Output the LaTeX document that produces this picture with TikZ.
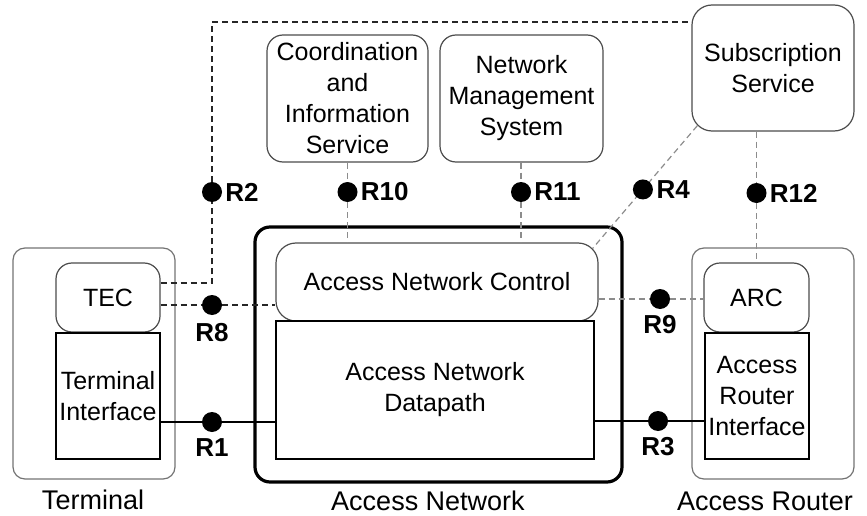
\documentclass[tikz,border=0pt]{standalone}
\usepackage{fontspec}
\setmainfont{Liberation Sans}
\begin{document}
\begin{tikzpicture}[x=1pt,y=-1pt,
  txt/.style={font=\fontsize{25}{31}\selectfont, align=center},
  captxt/.style={font=\fontsize{27}{32}\selectfont, inner sep=0pt},
  outerbox/.style={draw=black!55, line width=1.2pt, rounded corners=12pt, inner sep=0pt},
  anbox/.style={draw=black, line width=3.2pt, rounded corners=15pt, inner sep=0pt},
  rbox/.style={txt, draw=black!70, line width=1.2pt, rounded corners=16pt, inner sep=0pt},
  sbox/.style={txt, draw=black, line width=1.1pt, inner sep=0pt},
  dot/.style={circle, fill=black, minimum size=20pt, inner sep=0pt},
  rlab/.style={font=\bfseries\fontsize{26}{30}\selectfont, inner sep=0pt},
  ddash/.style={draw=black!85, line width=1.2pt, dash pattern=on 6pt off 4pt},
  ldash/.style={draw=black!45, line width=1.2pt, dash pattern=on 6pt off 4pt},
  conn/.style={draw=black, line width=1.2pt}
]
\useasboundingbox (0,0) rectangle (867,516);

% outer containers
\node[outerbox, minimum width=162pt, minimum height=231pt] (term) at (94,363.5) {};
\node[anbox, minimum width=367pt, minimum height=255pt] (an) at (438.5,354.5) {};
\node[outerbox, minimum width=162pt, minimum height=231pt] (ar) at (773,363.5) {};

% inner boxes
\node[rbox, minimum width=104pt, minimum height=69pt] (tec) at (108,297.5) {TEC};
\node[sbox, minimum width=104pt, minimum height=126pt] (ti) at (108,396) {Terminal\\Interface};
\node[rbox, rounded corners=20pt, minimum width=322pt, minimum height=78pt] (anc) at (437,282) {Access Network Control};
\node[sbox, minimum width=318pt, minimum height=138pt] (and) at (435,390) {Access Network\\Datapath};
\node[rbox, minimum width=105pt, minimum height=69pt] (arc) at (756.5,297.5) {ARC};
\node[sbox, minimum width=104pt, minimum height=126pt] (ari) at (757,396) {Access\\Router\\Interface};

% top services
\node[rbox, minimum width=161pt, minimum height=127pt] (cis) at (347.5,98.5) {Coordination\\and\\Information\\Service};
\node[rbox, minimum width=163pt, minimum height=127pt] (nms) at (521.5,98.5) {Network\\Management\\System};
\node[rbox, rounded corners=20pt, minimum width=162pt, minimum height=126pt] (sub) at (773,68) {Subscription\\Service};

% captions
\node[captxt] (termcap) at (93,500) {Terminal};
\node[captxt] (ancap) at (428,501) {Access Network};
\node[captxt] (arcap) at (765,501) {Access Router};

% reference points
\node[dot] (r2) at (212,192) {};
\node[dot] (r10) at (347.5,192) {};
\node[dot] (r11) at (521,192) {};
\node[dot] (r12) at (756.5,193) {};
\node[dot] (r8) at (212,305) {};
\node[dot] (r1) at (212,422) {};
\node[dot] (r9) at (660,299) {};
\node[dot] (r3) at (658,421) {};
\coordinate (r2a) at (212,283);
\coordinate (r2top) at (212,22);

% connectors
\draw[ddash] (tec.east |- r2a) -- (r2a) -- (r2) -- (r2top) -- (sub.west |- r2top);
\draw[ddash] (tec.east |- r8) -- (r8) -- (anc.west |- r8);
\draw[conn] (ti.east |- r1) -- (r1) -- (and.west |- r1);
\draw[ldash] (cis.south) -- (r10) -- (anc.north -| r10);
\draw[ldash] (nms.south -| r11) -- (r11) -- (anc.north -| r11);
\draw[ldash] (sub.south -| r12) -- (r12) -- (arc.north);
\draw[ldash] ([shift={(5.9pt,5.9pt)}]sub.south west) -- node[dot, pos=0.52] (r4) {} ([shift={(-5.9pt,-5.9pt)}]anc.north east);
\draw[ldash] (anc.east |- r9) -- (r9) -- (arc.west |- r9);
\draw[conn] (and.east |- r3) -- (r3) -- (ari.west |- r3);

% reference point labels
\node[rlab, anchor=west] (l2) at ([xshift=3pt]r2.east) {R2};
\node[rlab, anchor=west] (l10) at ([xshift=3pt]r10.east) {R10};
\node[rlab, anchor=west] (l11) at ([xshift=3pt]r11.east) {R11};
\node[rlab, anchor=west] (l4) at ([xshift=3pt]r4.east) {R4};
\node[rlab, anchor=west] (l12) at ([xshift=3pt]r12.east) {R12};
\node[rlab] (l8) at ([yshift=-28pt]r8.center) {R8};
\node[rlab] (l1) at ([yshift=-26pt]r1.center) {R1};
\node[rlab] (l9) at ([yshift=-26pt]r9.center) {R9};
\node[rlab] (l3) at ([yshift=-26pt]r3.center) {R3};
\end{tikzpicture}
\end{document}
